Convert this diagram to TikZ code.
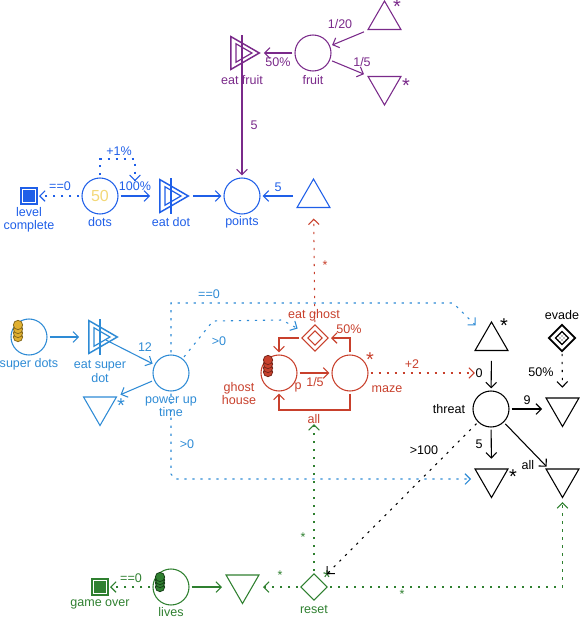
\documentclass[tikz,border=0pt]{standalone}
\usepackage{fontspec}
\setmainfont{Liberation Sans}
\usetikzlibrary{arrows.meta,shapes.geometric,patterns}
\definecolor{dotblue}{HTML}{1F5FE8}
\definecolor{powblue}{HTML}{2E8BD5}
\definecolor{fruitpur}{HTML}{7A2A8A}
\definecolor{ghostred}{HTML}{C8402C}
\definecolor{lifegrn}{HTML}{2F8030}
\definecolor{tokgold}{HTML}{E0B030}
\definecolor{numgold}{HTML}{F3D878}

\begin{document}
\begin{tikzpicture}[>={Straight Barb[length=4pt,width=8pt]},font=\fontsize{9.4}{10}\selectfont,x=0.75pt,y=-0.75pt,line width=0.8pt,
 pool/.style={draw,circle,inner sep=0pt,minimum size=27pt,outer sep=2pt},
 triup/.style={draw,regular polygon,regular polygon sides=3,inner sep=0pt,minimum size=28.5pt,outer sep=1.75pt},
 tridn/.style={triup,shape border rotate=180},
 gateo/.style={triup,shape border rotate=-90,line width=1.1pt},
 gatei/.style={gateo,minimum size=16pt,outer sep=0pt,line width=0.9pt},
 dia/.style={draw,diamond,aspect=1,inner sep=0pt,minimum size=21pt,outer sep=1.5pt},
 endbox/.style={draw,rectangle,inner sep=0pt,minimum size=12pt,outer sep=1.5pt},
 tok/.style={draw,circle,inner sep=0pt,minimum size=7pt,line width=0.6pt},
 lab/.style={inner sep=0pt,align=center},
 starlab/.style={inner sep=0pt,font=\fontsize{15}{15}\selectfont},
 dsh/.style={dash pattern=on 1.7pt off 4.3pt},
 cdot/.style={color=dotblue},
 cpow/.style={color=powblue},
 cfru/.style={color=fruitpur},
 cred/.style={color=ghostred},
 cgrn/.style={color=lifegrn},
 gate/.pic={
  \node[gateo] (-o) at (-1.7,0) {};
  \node[gatei] (-i) at (-0.7,0) {};
  \coordinate (-c) at (0,0);
  \draw[line width=1.1pt] (0,-18) -- (0,18);
 }]
\useasboundingbox (0,0) rectangle (580,618);
% fruit
\node[triup,cfru] (tfru1) at (384.5,20) {};
\node[tridn,cfru] (tfru2) at (384.5,86) {};
\node[pool,cfru] (fruit) at (313,53) {};
\pic[cfru] (eatfruit) at (242,53) {gate};
\node[lab,cfru] (lbfruit) at (313,80) {fruit};
\node[lab,cfru] (lbeatf) at (242,80) {eat fruit};
\node[starlab,cfru] (stfru1) at (397,7) {*};
\node[starlab,cfru] (stfru2) at (406,86) {*};
\node[lab,cfru] (lb120) at (340,24) {1/20};
\node[lab,cfru] (lb15) at (362,62) {1/5};
\node[lab,cfru] (lb50f) at (278,62) {50\%};
\node[lab,cfru] (lb5f) at (254,125) {5};
% dots
\node[endbox,cdot] (lvl) at (29,196) {};
\node[endbox,cdot,fill=dotblue,minimum size=7.5pt] (lvlin) at (29,196) {};
\node[pool,cdot] (dots) at (100,196) {};
\node[lab,font=\fontsize{12}{12}\selectfont,color=numgold] (lb50) at (100,196) {50};
\pic[cdot] (eatdot) at (171,196) {gate};
\node[pool,cdot] (points) at (242,196) {};
\node[triup,cdot] (tpts) at (313.5,198) {};
\node[lab,cdot] (lblvl) at (29,219.5) {level\\complete};
\node[lab,cdot] (lbdots) at (100,222) {dots};
\node[lab,cdot] (lbeatd) at (171,222) {eat dot};
\node[lab,cdot] (lbpts) at (242,222) {points};
\node[lab,cdot] (lbeq0) at (60,186) {==0};
\node[lab,cdot] (lb100) at (135,186) {100\%};
\node[lab,cdot] (lbp1) at (119,151) {+1\%};
\node[lab,cdot] (lb5p) at (278,187) {5};
% super dots and power up
\node[pool,cpow] (sdots) at (29,337) {};
\foreach \t in {337,333,329,325}
 \node[tok,fill=tokgold,draw=tokgold!60!black] (tokS\t) at (18,\t) {};
\pic[cpow] (eatsd) at (100,337) {gate};
\node[pool,cpow] (pup) at (171,373) {};
\node[tridn,cpow] (tsd) at (100,406.5) {};
\node[lab,cpow] (lbsd) at (29,364) {super dots};
\node[lab,cpow] (lbeats) at (100,371.5) {eat super\\dot};
\node[lab,cpow] (lbpup) at (171,407) {power up\\time};
\node[lab,cpow] (lb12) at (145,347) {12};
\node[starlab,cpow] (stsd) at (121,406) {*};
\node[lab,cpow] (lbeq0p) at (209,294) {==0};
\node[lab,cpow] (lbgt1) at (219,341) {>0};
\node[lab,cpow] (lbgt2) at (187,444) {>0};
% ghosts
\node[dia,cred] (eghost) at (315,338) {};
\node[dia,cred,minimum size=12pt] (eghostin) at (315,338) {};
\node[pool,cred] (ghost) at (279,373) {};
\foreach \t in {372,368,364,360}
 \node[tok,fill=ghostred,draw=ghostred!60!black] (tokG\t) at (268,\t) {};
\node[pool,cred] (maze) at (350,373) {};
\node[lab,cred] (lbeg) at (314,315) {eat ghost};
\node[lab,cred] (lbgh) at (239,393.5) {ghost\\house};
\node[lab,cred] (lbp) at (298,387) {p};
\node[lab,cred] (lb15g) at (315,382) {1/5};
\node[lab,cred] (lbmaze) at (387,389) {maze};
\node[lab,cred] (lb50g) at (349,329) {50\%};
\node[lab,cred] (lball) at (314,419) {all};
\node[lab,cred] (lbp2) at (412,364) {+2};
\node[starlab,cred] (stmaze) at (370,360) {*};
\node[lab,cred] (lbst1) at (325,265) {*};
% threat
\node[triup] (tthr) at (491.5,341) {};
\node[dia,line width=1.3pt] (evade) at (562,338) {};
\node[dia,minimum size=11pt,pattern=crosshatch dots,line width=0.9pt] (evadein) at (562,338) {};
\node[pool] (threat) at (491,409) {};
\node[tridn] (tright) at (562.5,407.5) {};
\node[tridn] (tfive) at (491.5,478.5) {};
\node[tridn] (tall) at (562.5,478.5) {};
\node[lab] (lbev) at (562,315) {evade};
\node[lab] (lbthr) at (449,409) {threat};
\node[lab] (lb0) at (479,373) {0};
\node[lab] (lb9) at (527,400) {9};
\node[lab] (lb5t) at (479,444) {5};
\node[lab] (lball2) at (528,465) {all};
\node[lab] (lb50e) at (541,372) {50\%};
\node[lab] (lb100t) at (424,450) {>100};
\node[starlab] (stthr) at (504,326) {*};
\node[starlab] (stfive) at (513,477) {*};
% lives
\node[endbox,cgrn] (gover) at (100,587) {};
\node[endbox,cgrn,fill=lifegrn,minimum size=7.5pt] (goverin) at (100,587) {};
\node[pool,cgrn] (lives) at (171,587) {};
\foreach \t in {587,583,580,577}
 \node[tok,fill=lifegrn,draw=lifegrn!50!black] (tokL\t) at (160,\t) {};
\node[tridn,cgrn] (tlife) at (242.5,584.5) {};
\node[dia,cgrn] (reset) at (314,587) {};
\node[lab,cgrn] (lbgo) at (100,604) {game over};
\node[lab,cgrn] (lblv) at (171,612) {lives};
\node[lab,cgrn] (lbrs) at (314,610) {reset};
\node[lab,cgrn] (lbeq0g) at (131,578) {==0};
\node[lab,cgrn] (lbs1) at (280,575) {*};
\node[lab,cgrn] (lbs2) at (303,537) {*};
\node[lab,cgrn] (lbs3) at (402,594) {*};
\node[starlab,cgrn] (strs) at (327,578) {*};
% connectors
\draw[->,cfru] (tfru1.corner 2) -- (fruit);
\draw[->,cfru] (fruit) -- (tfru2.corner 3);
\draw[->,cfru] (fruit) -- (eatfruit-o.corner 1);
\draw[->,cfru] (eatfruit-c) -- (points);
\draw[->,cdot,dsh] (dots) -- (lvl);
\draw[->,cdot,shorten >=5.5pt] (dots) -- (eatdot-o);
\draw[->,cdot] (eatdot-o.corner 1) -- (points);
\draw[->,cdot] (tpts.corner 2 |- points) -- (points);
\draw[->,cdot,dsh] (dots) -- (100,159) -| (lb100);
\draw[->,cpow,shorten >=5.5pt] (sdots) -- (eatsd-o);
\draw[->,cpow,shorten <=5pt] (eatsd-c) -- (pup);
\draw[->,cpow] (pup) -- (tsd.corner 2);
\draw[->,cpow,dsh,shorten >=7.5pt] (pup) -- (171,303) -- (453,303) -- (tthr);
\draw[->,cpow,dsh,shorten >=6pt] (pup) -- (213,321) -- (282,320) -- (eghost);
\draw[->,cpow,dsh] (pup) -- (171,474) -- (175,479) -- (tfive.corner 3 |- 175,479);
\draw[->,cred] (maze) |- (eghost);
\draw[->,cred] (eghost) -| (ghost);
\draw[->,cred] (ghost) -- (maze);
\draw[->,cred] (maze) -- (350,410) -- (279,410) -- (ghost);
\draw[->,cred,dsh,shorten >=6.5pt] (eghost) -- (tpts);
\draw[->,cred,dsh] (maze) -- (lb0);
\draw[->,shorten <=6pt] (tthr) -- (threat);
\draw[->] (threat) -- (tright.corner 3 |- threat);
\draw[->,shorten >=6pt] (threat) -- (tfive);
\draw[->] (threat) -- ([xshift=3.5pt]tall.corner 3);
\draw[->,dsh,shorten >=6pt] (evade) -- (tright);
\draw[->,dsh,shorten >=5pt] (threat) -- (reset);
\draw[->,cgrn,dsh] (lives) -- (gover);
\draw[->,cgrn] (lives) -- (tlife.corner 3 |- lives);
\draw[->,cgrn,dsh] (reset) -- (tlife.corner 2 |- reset);
\draw[->,cgrn,dsh] (reset) -- (lball);
\draw[->,cgrn,dsh] (reset) -| (tall);
\end{tikzpicture}
\end{document}
